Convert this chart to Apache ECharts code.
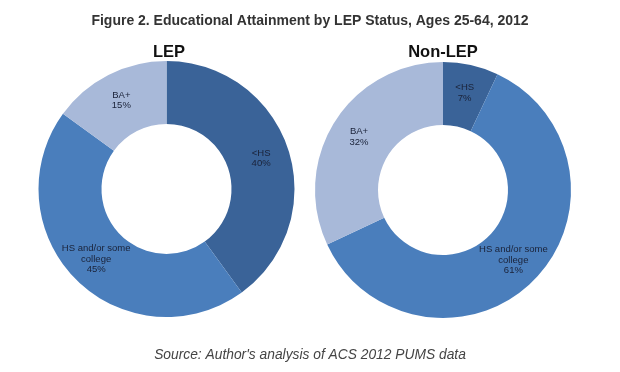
<!DOCTYPE html>
<html>
<head>
<meta charset="utf-8">
<script src="https://cdn.jsdelivr.net/npm/echarts@6/dist/echarts.min.js"></script>
<style>
html,body{margin:0;padding:0;background:#fff;}
#chart{width:620px;height:372px;}
</style>
</head>
<body>
<div id="chart"></div>
<script>
const categories = ["<HS", "HS and/or some college", "BA+"];
const lepValues = [40, 45, 15];
const nonLepValues = [7, 61, 32];
const groupNames = ["LEP", "Non-LEP"];
const titleText = "Figure 2. Educational Attainment by LEP Status, Ages 25-64, 2012";
const sourceText = "Source: Author's analysis of ACS 2012 PUMS data";

const colors = ["#3A6398", "#4A7EBC", "#A8B9D9"];
const FONT = "Liberation Sans, Arial, sans-serif";

function makeData(vals) {
  return categories.map((c, i) => ({ name: c, value: vals[i] }));
}

function labelFmt(p) {
  return p.name.replace(" some college", " some\ncollege") + "\n" + p.value + "%";
}

const chart = echarts.init(document.getElementById("chart"), null, { renderer: "canvas" });

const pieBase = {
  type: "pie",
  radius: [65, 128],
  startAngle: 90,
  clockwise: true,
  silent: true,
  animation: false,
  label: {
    show: true,
    position: "inside",
    formatter: labelFmt,
    color: "#1a2238",
    fontSize: 9.5,
    lineHeight: 10.5,
    fontFamily: FONT,
    align: "center"
  },
  labelLine: { show: false },
  itemStyle: { borderWidth: 0 },
  emphasis: { disabled: true }
};

chart.setOption({
  color: colors,
  animation: false,
  title: [
    {
      text: titleText,
      left: "center",
      top: 9,
      textStyle: { fontFamily: FONT, fontSize: 14, fontWeight: "bold", color: "#333" }
    },
    {
      text: groupNames[0],
      left: 169, top: 44, textAlign: "center", padding: 0,
      textStyle: { fontFamily: FONT, fontSize: 16.5, fontWeight: "bold", color: "#111" }
    },
    {
      text: groupNames[1],
      left: 443, top: 44, textAlign: "center", padding: 0,
      textStyle: { fontFamily: FONT, fontSize: 16.5, fontWeight: "bold", color: "#111" }
    },
    {
      text: sourceText,
      left: "center",
      top: 343,
      textStyle: { fontFamily: FONT, fontSize: 13.8, fontStyle: "italic", fontWeight: "normal", color: "#444" }
    }
  ],
  series: [
    Object.assign({}, pieBase, { name: groupNames[0], center: [166.5, 189], data: makeData(lepValues) }),
    Object.assign({}, pieBase, { name: groupNames[1], center: [443, 190], data: makeData(nonLepValues) })
  ]
});
</script>
</body>
</html>
